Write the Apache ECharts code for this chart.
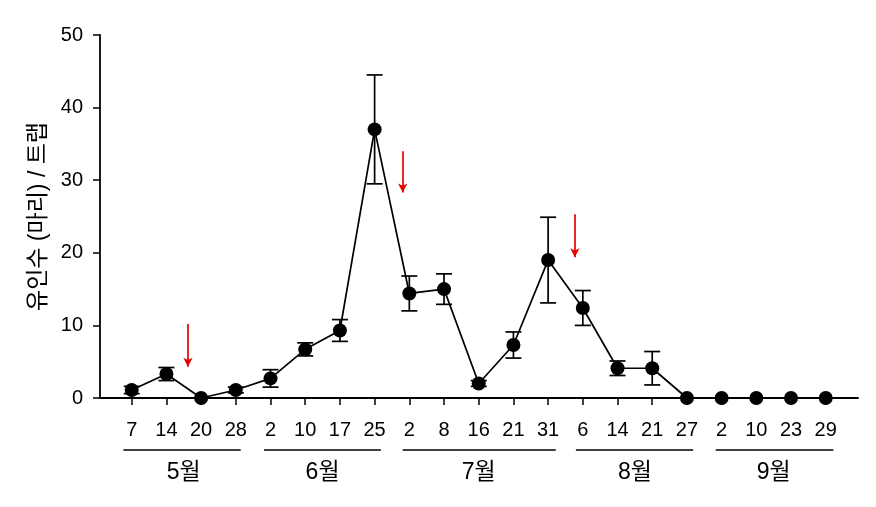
<!DOCTYPE html>
<html>
<head>
<meta charset="utf-8">
<script src="https://cdn.jsdelivr.net/npm/echarts@6/dist/echarts.min.js"></script>
<style>html,body{margin:0;padding:0;background:#fff}#c{width:876px;height:507px}</style>
</head>
<body>
<div id="c"></div>
<script>
var dayLabels = ['7','14','20','28','2','10','17','25','2','8','16','21','31','6','14','21','27','2','10','23','29'];
var meanValues = [1.1,3.3,0,1.1,2.7,6.7,9.3,37.0,14.4,15.0,2.0,7.3,19.0,12.4,4.1,4.1,0,0,0,0,0];
var errValues = [0.5,0.9,0,0.4,1.2,0.9,1.5,7.5,2.4,2.1,0.4,1.8,5.9,2.4,1.0,2.3,0,0,0,0,0];
var monthLabels = ['5월','6월','7월','8월','9월'];
var monthCenters = [1.5,5.5,10,14.5,18.5];
var monthRanges = [[-0.24,3.14],[3.81,7.18],[7.81,12.22],[12.80,16.18],[16.83,20.22]];
var arrows = [[1.62,10.2,4.3],[7.81,34.0,28.3],[12.77,25.3,19.4]];
var yTicks = [0,10,20,30,40,50];

var FONT = "Arial, 'Liberation Sans', 'Noto Sans CJK KR', sans-serif";
var xMin = -0.914, xMax = 20.93;
var idx = dayLabels.map(function(_, i){ return i; });

var lineData = meanValues.map(function(v, i){ return [i, v]; });
var errData = meanValues.map(function(v, i){ return [i, v - errValues[i], v + errValues[i]]; })
  .filter(function(d){ return d[2] - d[1] > 0; });

var underlineSeries = monthRanges.map(function(r){
  return {
    type: 'line', xAxisIndex: 2, yAxisIndex: 1, silent: true,
    data: [[r[0], 0.5], [r[1], 0.5]], symbol: 'none',
    lineStyle: {color: '#000', width: 1.3}, animation: false
  };
});

var option = {
  animation: false,
  textStyle: {fontFamily: FONT},
  grid: [
    {left: 100, right: 18, top: 35, bottom: 109, containLabel: false},
    {left: 100, right: 18, top: 449, height: 2, containLabel: false}
  ],
  xAxis: [
    {
      type: 'value', gridIndex: 0, min: xMin, max: xMax,
      splitLine: {show: false},
      axisLine: {show: true, onZero: false, lineStyle: {color: '#000', width: 1.8}},
      axisTick: {show: true, inside: false, length: 7, lineStyle: {color: '#000', width: 1.5}, customValues: idx},
      axisLabel: {show: true, customValues: idx, margin: 22, color: '#000', fontSize: 20, fontFamily: FONT,
        formatter: function(v){ var i = Math.round(v); return dayLabels[i] || ''; }}
    },
    {
      type: 'value', gridIndex: 0, min: xMin, max: xMax, position: 'bottom',
      splitLine: {show: false},
      axisLine: {show: false, onZero: false}, axisTick: {show: false},
      axisLabel: {show: true, customValues: monthCenters, margin: 63, color: '#000', fontSize: 23, fontFamily: FONT,
        formatter: function(v){ var k = monthCenters.indexOf(v); return k >= 0 ? monthLabels[k] : ''; }}
    },
    {
      type: 'value', gridIndex: 1, min: xMin, max: xMax, show: false
    }
  ],
  yAxis: [
    {
      type: 'value', gridIndex: 0, min: 0, max: 50, interval: 10,
      splitLine: {show: false},
      axisLine: {show: true, onZero: false, lineStyle: {color: '#000', width: 1.8}},
      axisTick: {show: true, inside: false, length: 7, lineStyle: {color: '#000', width: 1.5}, customValues: yTicks},
      axisLabel: {color: '#000', fontSize: 20, margin: 17, fontFamily: FONT},
      name: '유인수 (마리) / 트랩', nameLocation: 'middle', nameGap: 46, nameRotate: 90,
      nameTextStyle: {color: '#000', fontSize: 23, fontFamily: FONT}
    },
    {type: 'value', gridIndex: 1, min: 0, max: 1, show: false}
  ],
  series: [
    {
      type: 'custom', xAxisIndex: 0, yAxisIndex: 0, data: errData, z: 2, silent: true,
      renderItem: function(params, api){
        var x = api.value(0);
        var lo = api.coord([x, api.value(1)]);
        var hi = api.coord([x, api.value(2)]);
        var hw = 8;
        var st = {stroke: '#000', lineWidth: 1.7};
        return {type: 'group', children: [
          {type: 'line', shape: {x1: lo[0], y1: lo[1], x2: hi[0], y2: hi[1]}, style: st},
          {type: 'line', shape: {x1: lo[0]-hw, y1: lo[1], x2: lo[0]+hw, y2: lo[1]}, style: st},
          {type: 'line', shape: {x1: hi[0]-hw, y1: hi[1], x2: hi[0]+hw, y2: hi[1]}, style: st}
        ]};
      }
    },
    {
      type: 'line', xAxisIndex: 0, yAxisIndex: 0, data: lineData, z: 3,
      symbol: 'circle', symbolSize: 14, showSymbol: true,
      itemStyle: {color: '#000'},
      lineStyle: {color: '#000', width: 1.7},
      markLine: {
        silent: true, symbol: ['none', 'arrow'], symbolSize: [7, 9],
        label: {show: false},
        lineStyle: {color: '#e60000', width: 1.7, type: 'solid'},
        data: arrows.map(function(a){ return [{coord: [a[0], a[1]]}, {coord: [a[0], a[2]]}]; })
      }
    }
  ].concat(underlineSeries)
};

var chart = echarts.init(document.getElementById('c'), null, {renderer: 'canvas'});
chart.setOption(option);
</script>
</body>
</html>
